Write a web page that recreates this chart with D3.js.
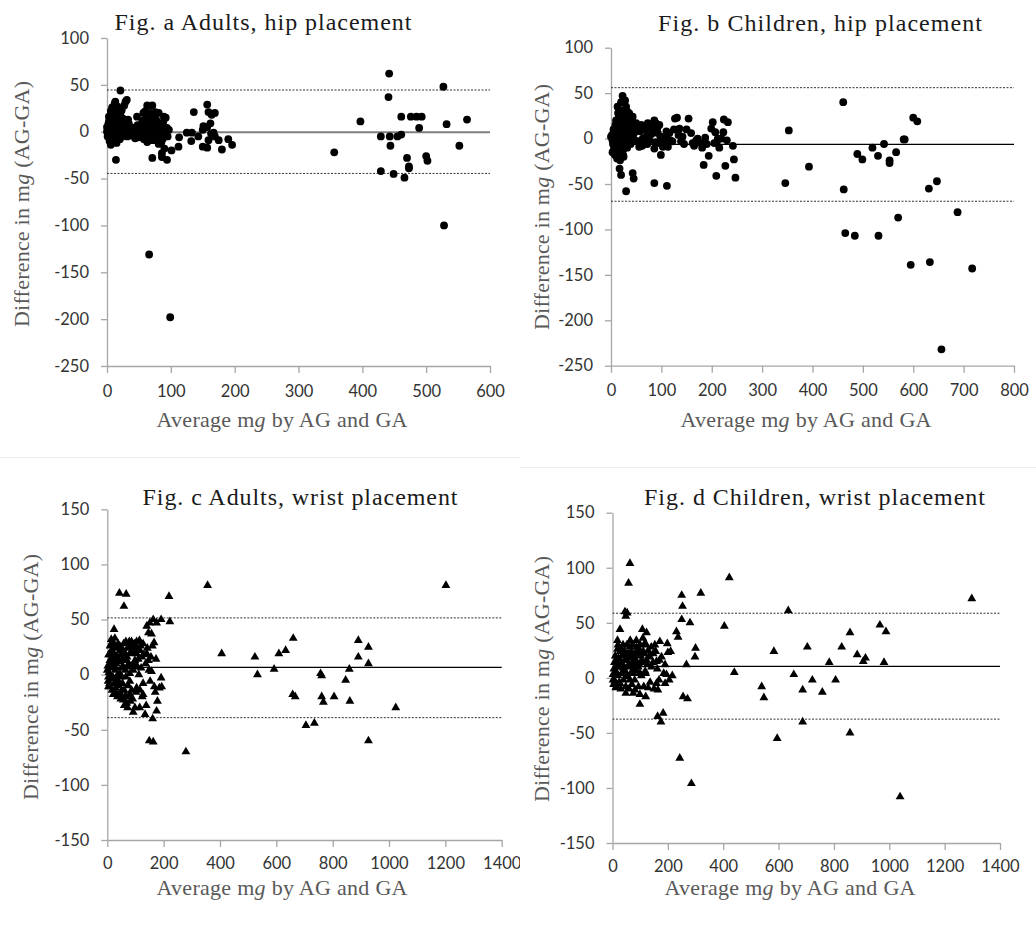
<!DOCTYPE html>
<html>
<head>
<meta charset="utf-8">
<script src="https://cdn.jsdelivr.net/npm/d3@7"></script>
<style>
  body { margin: 0; background: #fff; }
</style>
</head>
<body>
<svg id="chart" width="1036" height="929"></svg>
<script>
// Bland-Altman data: [average mg, difference AG-GA]
const adultsHip = [
  [21,44],[66,-131],[99,-198],[14,-30],[71,-28],[94,-30],[101,-20],[112,-16],[113,-6],[6,-14],
  [356,-22],[397,11],[442,62],[441,37],[429,-5],[429,-42],[443,-5],[444,-15],[449,-45],[455,-5],
  [461,-3],[461,16],[466,-49],[470,-28],[473,-37],[473,-39],[476,16],[485,16],[493,16],[489,4],
  [500,-26],[502,-31],[527,48],[528,-100],[532,8],[552,-15],[564,13],
  [125,-1],[132,-10],[136,21],[133,-1],[143,-5],[150,2],[151,6],[150,-16],[157,29],[157,5],
  [157,-17],[159,-9],[159,21],[162,9],[163,-2],[164,18],[169,20],[169,-5],[175,-9],[180,-19],
  [190,-8],[196,-14],[167,-1],
  [47,16],[44,-7],[52,-2],[63,28],[71,28],[57,20],[65,12],[68,5],[78,-2],[84,2],[78,8],[89,16],
  [92,15],[94,4],[81,-13],[86,-23],[86,-27],[73,18],[76,21],[81,20],[63,-11],[60,-5],[68,-5],
  [73,-2],[55,0],[50,2],[42,-2],[36,-4],[71,2],[76,-5],[78,-9],[65,0],[60,5],[57,12],
  [13,32],[29,32],[31,34],[27,28],[10,23],[16,20],[21,20],[23,12],[5,12],[3,5],[0,0],[5,0],
  [8,-4],[13,-5],[18,-2],[26,-2],[31,2],[34,9],[29,12],[10,7],[13,14],[18,9],[21,4],[5,-7],
  [0,5],[1,-5],[16,27],[23,23],[10,18],[3,11],[26,5],[29,2],[8,2],[13,2],[16,0],[21,-4],
  [10,-2],[3,-2],[1,3],[9,12],[19,16],[14,21],[7,-9],[2,8],[11,-8],[24,8],[34,-3],[38,5],
  [2,-3],[4,2],[6,6],[7,-2],[9,4],[11,1],[12,9],[14,-1],[15,6],[17,11],[17,4],[19,-6],[20,8],
  [22,1],[24,-5],[25,14],[27,10],[28,-1],[30,7],[32,-5],[33,13],[35,1],[3,16],[6,22],[8,26],
  [12,30],[18,25],[11,-11],[4,-10],[15,-12],[20,-8],[44,3],[46,-5],[48,7],[50,-6],[53,4],
  [55,10],[58,-8],[59,2],[61,14],[62,-3],[64,6],[66,-7],[67,16],[69,-1],[70,10],[72,-9],
  [74,6],[75,-4],[77,13],[79,3],[80,-6],[82,9],[83,-3],[85,5],[87,-8],[88,10],[90,-4],[91,3],
  [95,-5],[97,2],[60,22],[68,20],[85,-12],[90,-18]
];
const childrenHip = [
  [461,40],[353,9],[346,-49],[393,-31],[462,-56],[465,-104],[484,-107],[489,-17],[499,-23],
  [519,-10],[530,-19],[531,-107],[542,-6],[553,-24],[553,-27],[566,-15],[570,-87],[581,-1],
  [583,-1],[595,-139],[600,23],[608,19],[631,-55],[633,-136],[647,-47],[656,-232],[688,-81],[717,-143],
  [86,-49],[111,-52],[127,22],[131,23],[136,11],[139,-3],[142,2],[154,22],[159,6],[162,-5],
  [169,-2],[179,-5],[181,-10],[184,-29],[187,1],[194,-19],[199,11],[202,18],[205,-5],[207,7],
  [209,-41],[212,0],[215,-10],[219,0],[223,7],[224,21],[227,-30],[232,18],[242,-8],[244,-23],
  [247,-43],[122,-3],[113,-9],[107,2],[116,6],
  [23,47],[30,-58],[43,-38],[45,-44],[17,-33],[20,-40],[13,35],[30,35],[36,28],[43,24],[50,17],
  [60,15],[56,-9],[7,6],[3,-2],[0,2],[10,-9],[17,-16],[13,-20],[23,-13],[30,-5],[33,8],[17,13],
  [10,20],[23,26],[7,11],[17,2],[26,6],[36,2],[10,-2],[20,-5],[3,-15],[63,0],[70,2],[73,17],
  [80,13],[86,20],[89,17],[93,6],[96,-5],[99,-18],[103,-9],[86,-11],[83,6],[76,-2],[66,-3],
  [96,15],[83,9],[20,31],[27,22],[13,-10],[5,-6],[25,-20],[38,13],[8,-12],[15,22],[28,-9],
  [2,4],[4,-6],[5,10],[6,-10],[8,0],[9,15],[11,-4],[12,6],[14,-14],[15,2],[16,26],[18,-7],
  [19,9],[21,-2],[22,18],[24,-12],[25,4],[26,30],[28,12],[29,-3],[31,22],[32,-10],[34,16],
  [35,0],[37,26],[39,-6],[40,10],[42,20],[44,4],[46,12],[48,-2],[52,8],[12,-22],[18,-24],
  [24,-18],[8,-18],[20,40],[28,42],[32,30],[14,28],
  [55,-3],[58,8],[62,-8],[68,10],[72,-6],[78,4],[84,14],[88,-4],[92,12],[98,2],[104,-4],
  [110,8],[118,-2],[125,10],[134,4],[145,-6],[150,10],[165,-8],[172,0],[190,-6],[210,-4],[230,-2]
];
const adultsWrist = [
  [356,81],[1202,81],[279,-70],[219,71],[222,48],[406,19],[524,16],[533,0],[592,5],[609,19],
  [633,22],[660,33],[658,-18],[667,-20],[705,-46],[735,-44],[757,1],[761,-1],[761,-20],[767,-25],
  [805,-20],[846,-5],[859,5],[861,-24],[891,31],[891,16],[927,25],[927,10],[927,-60],[1024,-30],
  [43,74],[67,73],[59,62],[24,41],[27,33],[21,-18],[92,-34],[134,-36],[149,-60],[163,-61],
  [161,-40],[175,-33],[193,-11],[191,-3],[167,-11],[140,44],[151,47],[163,50],[175,47],[191,50],
  [157,37],[146,38],[166,29],[173,14],[157,3],[127,-8],[127,-18],[116,-14],[104,-12],[127,28],
  [104,30],[86,30],[75,25],[86,19],[69,13],[57,7],[45,1],[39,-6],[51,-14],[63,-20],[69,-26],
  [57,-23],[80,-18],[86,-14],[98,13],[104,19],[116,22],[140,19],[146,13],[92,4],[80,1],[4,-2],
  [0,4],[9,13],[15,22],[9,-11],[4,-11],[27,7],[15,-2],[21,16],[33,13],[75,7],[92,25],[59,19],
  [45,22],[51,13],[66,-2],[33,-17],[114,31],[122,16],[107,7],[12,27],[18,8],[6,18],[30,-8],
  [2,8],[3,-6],[5,18],[6,2],[8,-8],[10,26],[11,10],[12,-4],[14,32],[16,6],[17,-14],[19,20],
  [20,-2],[22,12],[23,28],[25,-8],[26,18],[28,4],[29,-12],[31,24],[32,10],[34,-4],[35,16],
  [37,0],[38,28],[40,-10],[42,12],[44,26],[46,-2],[47,18],[49,-18],[50,6],[52,24],[54,-8],
  [55,14],[58,28],[60,-14],[62,20],[64,4],[66,30],[68,-20],[70,16],[72,24],[74,-10],[76,10],
  [78,30],[80,-6],[82,20],[84,26],[88,8],[90,-22],[94,20],[96,28],[100,10],[102,-16],[106,24],
  [110,14],[112,0],[118,26],[120,6],[124,-20],[130,18],[136,10],[138,-28],[142,24],[148,4],
  [152,-6],[155,16],[160,26],[170,-16],[178,-24],[185,-12],[60,-28],[72,-30],[82,-24],[48,-22],
  [36,-20],[115,-30],[98,-30]
];
const childrenWrist = [
  [63,104],[58,86],[422,91],[1298,72],[319,77],[250,75],[253,65],[250,53],[280,50],[300,27],
  [298,19],[267,12],[255,-17],[271,-19],[243,-73],[285,-96],[231,42],[237,37],[404,47],[440,5],
  [539,-8],[547,-18],[583,24],[595,-55],[635,61],[655,3],[687,-11],[687,-40],[704,28],[722,-2],
  [758,-13],[783,14],[806,-2],[828,28],[858,41],[858,-50],[884,21],[906,15],[914,18],[966,48],
  [988,42],[981,14],[1039,-108],
  [163,-35],[175,-40],[183,-32],[171,33],[198,31],[200,23],[195,3],[216,2],[190,-5],[159,-5],
  [164,-11],[177,19],[153,30],[135,19],[123,41],[108,44],[116,31],[120,4],[113,-8],[120,-17],
  [99,-24],[75,-14],[48,-14],[63,-2],[27,44],[18,34],[20,30],[45,60],[53,59],[48,56],[93,21],
  [81,22],[63,28],[39,22],[27,16],[14,10],[8,4],[2,-2],[12,-9],[27,-5],[51,1],[63,10],[81,13],
  [93,10],[105,16],[123,16],[141,10],[159,15],[81,-11],[99,4],[75,4],[39,9],[33,4],[14,16],
  [45,16],[69,18],[87,28],[99,25],[111,24],[129,25],[147,22],[99,-15],[129,-9],[35,25],[57,20],
  [2,3],[4,-6],[5,8],[7,14],[9,-3],[10,20],[12,6],[14,-8],[16,12],[18,26],[20,2],[22,18],
  [24,-4],[26,10],[28,24],[30,-10],[32,14],[34,4],[36,20],[38,30],[40,-2],[42,10],[44,24],
  [46,6],[48,-8],[50,16],[52,30],[54,2],[56,22],[58,12],[60,-10],[62,18],[64,34],[66,4],
  [68,24],[70,-6],[72,14],[74,30],[76,8],[78,20],[80,-2],[84,16],[86,34],[88,6],[90,24],
  [94,-8],[96,12],[100,30],[102,20],[104,2],[108,14],[110,36],[114,22],[118,6],[122,30],
  [126,12],[132,20],[136,-4],[140,28],[146,14],[150,-10],[156,24],[162,8],[168,-2],[170,16],
  [185,4],[190,12],[205,-2],[210,24]
];

// mean difference and limits of agreement [mean, upper, lower]
const adultsHipLines = [-0.5, 44.5, -44.5];
const childrenHipLines = [-6.5, 56, -69];
const adultsWristLines = [6.6, 51.5, -39];
const childrenWristLines = [10.5, 58.7, -37.5];

const hipAdultsXTicks = [0, 100, 200, 300, 400, 500, 600];
const hipChildrenXTicks = [0, 100, 200, 300, 400, 500, 600, 700, 800];
const wristXTicks = [0, 200, 400, 600, 800, 1000, 1200, 1400];
const hipYTicks = [100, 50, 0, -50, -100, -150, -200, -250];
const wristYTicks = [150, 100, 50, 0, -50, -100, -150];

const titles = ["Fig. a Adults, hip placement", "Fig. b Children, hip placement",
                "Fig. c Adults, wrist placement", "Fig. d Children, wrist placement"];

const svg = d3.select("#chart");

// faint borders left over from the pasted images
svg.append("line").attr("x1", 0).attr("x2", 520).attr("y1", 457.5).attr("y2", 457.5)
  .attr("stroke", "#eeeeee");
svg.append("line").attr("x1", 520).attr("x2", 1036).attr("y1", 467.5).attr("y2", 467.5)
  .attr("stroke", "#eeeeee");

const panels = [
  {data: adultsHip, lines: adultsHipLines, xt: hipAdultsXTicks, yt: hipYTicks, title: titles[0],
   l: 107, r: 490, t: 38, b: 366, marker: "circle", meanColor: "#7f7f7f", meanWidth: 2,
   titleX: 263, titleY: 30, titleW: 297, ylx: 29, yly: 204, xlx: 282, xly: 427, xpad: 12, clip: null},
  {data: childrenHip, lines: childrenHipLines, xt: hipChildrenXTicks, yt: hipYTicks, title: titles[1],
   l: 611, r: 1014, t: 47.7, b: 365.7, marker: "circle", meanColor: "#000", meanWidth: 1.2,
   titleX: 820, titleY: 31, titleW: 324, ylx: 549, yly: 207, xlx: 806, xly: 427, xpad: 12, clip: null},
  {data: adultsWrist, lines: adultsWristLines, xt: wristXTicks, yt: wristYTicks, title: titles[2],
   l: 107.3, r: 501.7, t: 509.3, b: 840, marker: "triangle", meanColor: "#000", meanWidth: 1.2,
   titleX: 300, titleY: 505, titleW: 315, ylx: 38, yly: 677, xlx: 282, xly: 895, xpad: 10, clip: 520},
  {data: childrenWrist, lines: childrenWristLines, xt: wristXTicks, yt: wristYTicks, title: titles[3],
   l: 612.5, r: 1000, t: 512.7, b: 843, marker: "triangle", meanColor: "#000", meanWidth: 1.2,
   titleX: 814.5, titleY: 505, titleW: 341, ylx: 549, yly: 679, xlx: 790, xly: 895, xpad: 10, clip: null}
];

const serif = "'Liberation Serif', 'Times New Roman', serif";
const sans = "Lato, 'Open Sans', sans-serif";

svg.append("defs").append("clipPath").attr("id", "clipc")
  .append("rect").attr("x", 0).attr("y", 460).attr("width", 520).attr("height", 469);

panels.forEach(function(p) {
  const g = svg.append("g");
  if (p.clip) g.attr("clip-path", "url(#clipc)");

  const xs = d3.scaleLinear().domain([p.xt[0], p.xt[p.xt.length - 1]]).range([p.l, p.r]);
  const ys = d3.scaleLinear().domain([d3.min(p.yt), d3.max(p.yt)]).range([p.b, p.t]);

  // axes
  const xa = g.append("g").attr("transform", `translate(0,${p.b})`)
    .call(d3.axisBottom(xs).tickValues(p.xt).tickFormat(d => String(d))
      .tickSize(7).tickSizeOuter(0).tickPadding(p.xpad));
  const ya = g.append("g").attr("transform", `translate(${p.l},0)`)
    .call(d3.axisLeft(ys).tickValues(p.yt).tickFormat(d => String(d))
      .tickSize(6).tickSizeOuter(0).tickPadding(12));
  [xa, ya].forEach(a => {
    a.select(".domain").attr("stroke", "#a6a6a6").attr("stroke-width", 1.3);
    a.selectAll(".tick line").attr("stroke", "#a6a6a6").attr("stroke-width", 1.3);
    a.selectAll(".tick text").attr("fill", "#333").style("font-family", sans).style("font-size", "16.5px");
  });

  // agreement lines
  g.append("line").attr("x1", p.l).attr("x2", p.r)
    .attr("y1", ys(p.lines[0])).attr("y2", ys(p.lines[0]))
    .attr("stroke", p.meanColor).attr("stroke-width", p.meanWidth);
  g.selectAll(".loa").data(p.lines.slice(1)).enter().append("line")
    .attr("x1", p.l).attr("x2", p.r)
    .attr("y1", d => ys(d)).attr("y2", d => ys(d))
    .attr("stroke", "#333").attr("stroke-width", 1).attr("stroke-dasharray", "2,1.5");

  // points
  if (p.marker === "circle") {
    g.selectAll(".pt").data(p.data).enter().append("circle")
      .attr("cx", d => xs(d[0])).attr("cy", d => ys(d[1])).attr("r", 3.9).attr("fill", "#000");
  } else {
    const tri = d3.symbol().type(d3.symbolTriangle).size(34);
    g.selectAll(".pt").data(p.data).enter().append("path")
      .attr("d", tri).attr("transform", d => `translate(${xs(d[0])},${ys(d[1])})`).attr("fill", "#000");
  }

  // titles
  g.append("text").attr("x", p.titleX).attr("y", p.titleY).attr("text-anchor", "middle")
    .attr("textLength", p.titleW).attr("lengthAdjust", "spacing")
    .style("font-family", serif).style("font-size", "24px").style("font-weight", "normal")
    .attr("fill", "#1a1a1a")
    .text(p.title);

  const yl = g.append("text").attr("transform", `translate(${p.ylx},${p.yly}) rotate(-90)`)
    .attr("text-anchor", "middle").attr("textLength", 246).attr("lengthAdjust", "spacing")
    .style("font-family", serif).style("font-size", "22px").attr("fill", "#595959");
  yl.append("tspan").text("Difference in m");
  yl.append("tspan").style("font-style", "italic").text("g");
  yl.append("tspan").text(" (AG-GA)");

  const xl = g.append("text").attr("x", p.xlx).attr("y", p.xly).attr("text-anchor", "middle")
    .attr("textLength", 251).attr("lengthAdjust", "spacing")
    .style("font-family", serif).style("font-size", "22px").attr("fill", "#595959");
  xl.append("tspan").text("Average m");
  xl.append("tspan").style("font-style", "italic").text("g");
  xl.append("tspan").text(" by AG and GA");
});
</script>
</body>
</html>
